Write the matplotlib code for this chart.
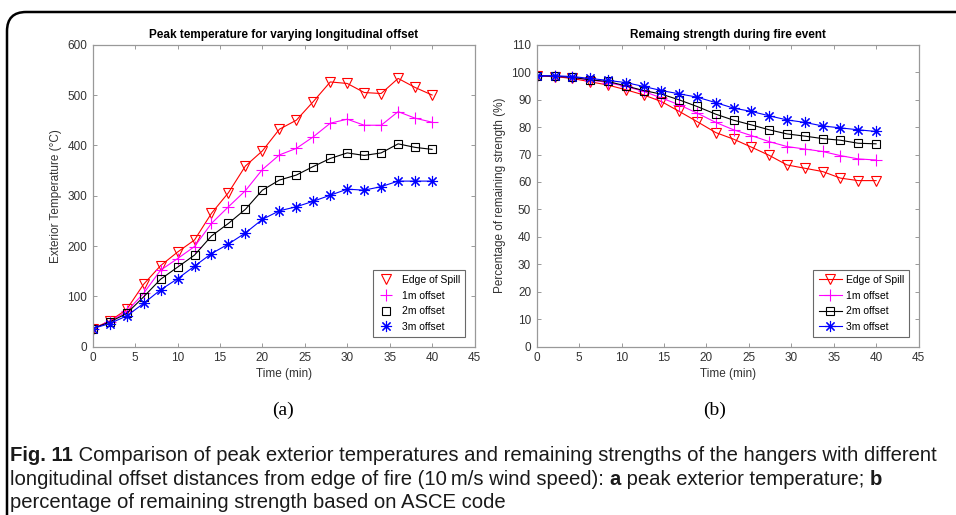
import matplotlib
matplotlib.use("Agg")
import matplotlib.pyplot as plt
from matplotlib.patches import FancyBboxPatch
from matplotlib.lines import Line2D

# ---------------- data ----------------
series_names = ["Edge of Spill", "1m offset", "2m offset", "3m offset"]

time_a = [0, 2, 4, 6, 8, 10, 12, 14, 16, 18, 20, 22, 24, 26, 28, 30, 32, 34, 36, 38, 40]
temp_edge = [36, 51, 74, 124, 161, 188, 212, 265, 306, 359, 389, 432, 450, 487, 526, 523, 505, 503, 533, 515, 500]
temp_1m = [36, 50, 70, 106, 152, 175, 199, 245, 278, 310, 352, 381, 394, 417, 444, 452, 440, 440, 467, 454, 446]
temp_2m = [36, 49, 66, 99, 134, 158, 182, 220, 245, 273, 311, 331, 341, 358, 374, 385, 380, 385, 403, 396, 392]
temp_3m = [36, 46, 61, 86, 113, 135, 160, 185, 204, 226, 253, 270, 278, 289, 301, 313, 311, 318, 329, 329, 329]

time_b = [0.0, 2.1, 4.2, 6.3, 8.4, 10.5, 12.6, 14.7, 16.8, 18.9, 21.1, 23.2, 25.3, 27.4, 29.5, 31.6, 33.7, 35.8, 37.9, 40.0]
str_edge = [98.7, 98.4, 97.7, 96.5, 95.3, 93.6, 91.7, 89.3, 85.7, 82.0, 78.0, 75.6, 72.7, 69.7, 66.2, 65.0, 63.8, 61.4, 60.5, 60.5]
str_1m = [98.7, 98.5, 98.1, 97.2, 96.2, 94.8, 93.0, 90.6, 88.1, 85.1, 81.7, 79.0, 76.9, 74.7, 72.9, 72.0, 71.1, 69.6, 68.4, 68.0]
str_2m = [98.7, 98.5, 98.1, 97.2, 96.6, 95.0, 93.3, 92.0, 89.9, 87.5, 84.7, 82.5, 80.8, 79.0, 77.5, 76.7, 75.8, 75.2, 74.1, 73.9]
str_3m = [98.7, 98.7, 98.4, 97.7, 97.0, 96.2, 94.8, 93.3, 92.1, 90.9, 88.9, 86.9, 85.7, 84.1, 82.6, 81.7, 80.4, 79.7, 79.0, 78.4]

xticks = [0, 5, 10, 15, 20, 25, 30, 35, 40, 45]
yticks_a = [0, 100, 200, 300, 400, 500, 600]
yticks_b = [0, 10, 20, 30, 40, 50, 60, 70, 80, 90, 100, 110]

colors = ["#ff0000", "#ff00ff", "#000000", "#0000ff"]
markers = ["v", "+", "s", (8, 2, 0)]
msizes = [7, 9, 6, 8]

plt.rcParams["font.family"] = ["Liberation Sans", "DejaVu Sans"]

W, H = 956, 515
fig = plt.figure(figsize=(W / 100, H / 100), dpi=100)

def fx(px):
    return px / W

def fy(py):
    return 1 - py / H

ax1 = fig.add_axes([fx(92.7), fy(346.7), fx(474.5) - fx(92.7), fy(44.7) - fy(346.7)])
ax2 = fig.add_axes([fx(536.7), fy(346.7), fx(918.5) - fx(536.7), fy(44.7) - fy(346.7)])

spine_col = "#999999"
label_col = "#333333"

def style(ax):
    for s in ax.spines.values():
        s.set_color(spine_col)
        s.set_linewidth(0.9)
    ax.tick_params(direction="in", top=True, right=True, length=3, width=0.7,
                   colors=spine_col, labelcolor=label_col, labelsize=8.5, pad=4)

series_a = [temp_edge, temp_1m, temp_2m, temp_3m]
for name, ys, c, m, ms in zip(series_names, series_a, colors, markers, msizes):
    ax1.plot(time_a, ys, color=c, lw=0.8, marker=m, ms=ms, mfc="none", mec=c, mew=0.8)
ax1.set_xlim(0, 45)
ax1.set_ylim(0, 600)
ax1.set_xticks(xticks)
ax1.set_yticks(yticks_a)
style(ax1)
ax1.set_title("Peak temperature for varying longitudinal offset", fontsize=8.5, fontweight="bold", pad=5)
ax1.set_xlabel("Time (min)", fontsize=8.5, color=label_col, labelpad=3)
ax1.set_ylabel("Exterior Temperature (\u00b0C)", fontsize=8.5, color=label_col, labelpad=4)

handles_a = [Line2D([], [], color=c, lw=0, marker=m, ms=ms, mfc="none", mec=c, mew=0.8)
             for c, m, ms in zip(colors, markers, msizes)]
leg1 = ax1.legend(handles_a, series_names, loc="lower right", fontsize=7.5, frameon=True,
                  fancybox=False, edgecolor="#444444", handlelength=1.5, borderaxespad=0.9,
                  labelspacing=0.55, handletextpad=0.8, borderpad=0.5)
leg1.get_frame().set_linewidth(0.8)

series_b = [str_edge, str_1m, str_2m, str_3m]
for name, ys, c, m, ms in zip(series_names, series_b, colors, markers, msizes):
    ax2.plot(time_b, ys, color=c, lw=0.8, marker=m, ms=ms, mfc="none", mec=c, mew=0.8, label=name)
ax2.set_xlim(0, 45)
ax2.set_ylim(0, 110)
ax2.set_xticks(xticks)
ax2.set_yticks(yticks_b)
style(ax2)
ax2.set_title("Remaing strength during fire event", fontsize=8.5, fontweight="bold", pad=5)
ax2.set_xlabel("Time (min)", fontsize=8.5, color=label_col, labelpad=3)
ax2.set_ylabel("Percentage of remaining strength (%)", fontsize=8.5, color=label_col, labelpad=4)
leg2 = ax2.legend(loc="lower right", fontsize=7.5, frameon=True, fancybox=False,
                  edgecolor="#444444", handlelength=2.2, borderaxespad=0.9,
                  labelspacing=0.55, handletextpad=0.4, borderpad=0.5)
leg2.get_frame().set_linewidth(0.8)

# (a) and (b)
fig.text(fx(283), fy(410), "(a)", fontsize=14, family=["Liberation Serif", "DejaVu Serif"],
         ha="center", va="center")
fig.text(fx(715), fy(410), "(b)", fontsize=14, family=["Liberation Serif", "DejaVu Serif"],
         ha="center", va="center")

# border frame (rounded, extends beyond right/bottom)
frame = FancyBboxPatch((fx(7), fy(560)), fx(1100) - fx(7), fy(12) - fy(560),
                       boxstyle="round,pad=0,rounding_size=0.02", transform=fig.transFigure,
                       fill=False, lw=1.8, ec="black", clip_on=False, mutation_aspect=W / H)
fig.patches.append(frame)

# caption with mixed bold
cap_font = ["Liberation Sans", "DejaVu Sans"]
cap_size = 14.6
cap_lines = [
    [("Fig. 11", True), (" Comparison of peak exterior temperatures and remaining strengths of the hangers with different", False)],
    [("longitudinal offset distances from edge of fire (10\u2009m/s wind speed): ", False), ("a", True),
     (" peak exterior temperature; ", False), ("b", True)],
    [("percentage of remaining strength based on ASCE code", False)],
]
baselines = [461, 485, 508]
fig.canvas.draw()
renderer = fig.canvas.get_renderer()
for segs, bl in zip(cap_lines, baselines):
    x = 10
    for txt, bold in segs:
        t = fig.text(fx(x), fy(bl), txt, fontsize=cap_size, family=cap_font,
                     fontweight="bold" if bold else "normal", va="baseline", ha="left",
                     color="#1a1a1a")
        bb = t.get_window_extent(renderer=renderer)
        x += bb.width

fig.savefig("out.png", dpi=100)
